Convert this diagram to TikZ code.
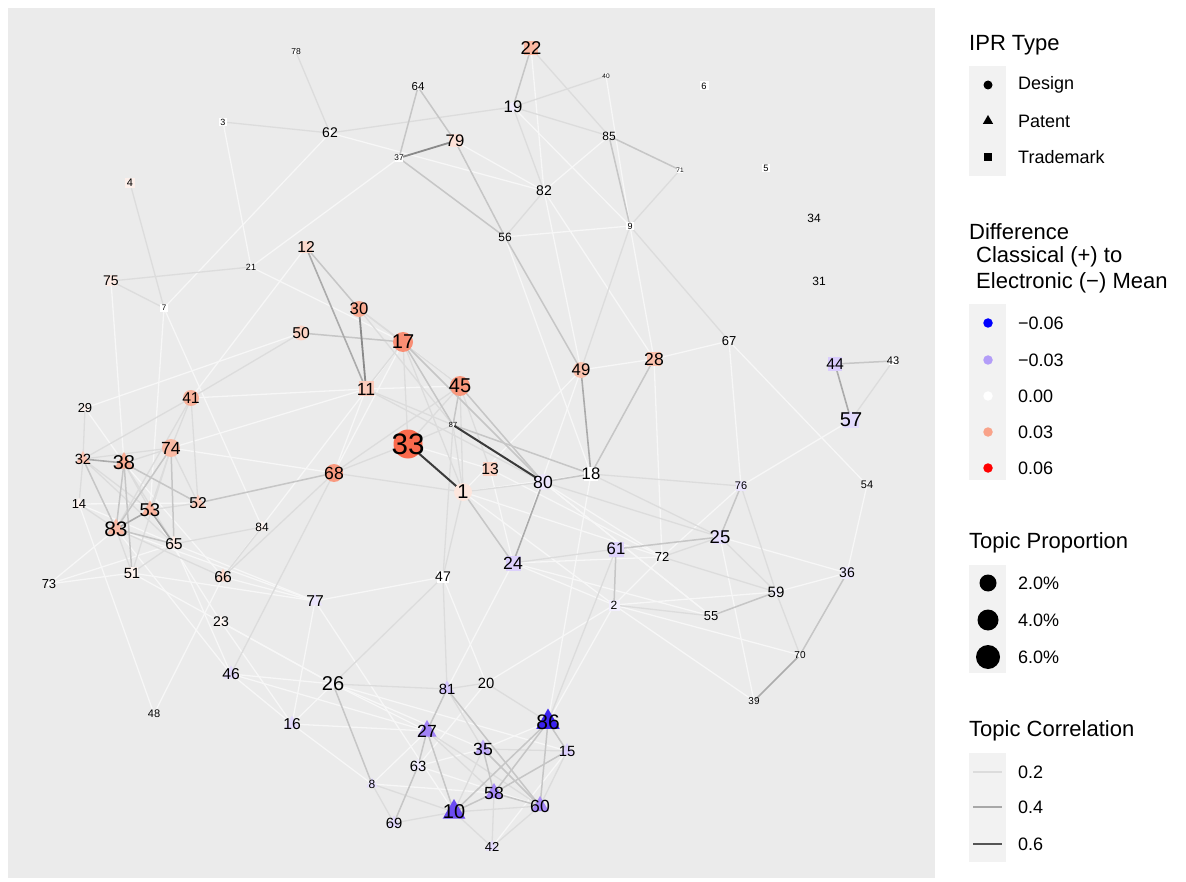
\documentclass[tikz,border=0pt]{standalone}
\usepackage{fontspec}
\setmainfont{Liberation Sans}
\usetikzlibrary{shapes.geometric}
\pgfdeclarelayer{panel}
\pgfdeclarelayer{edges}
\pgfdeclarelayer{labels}
\pgfsetlayers{panel,edges,main,labels}
\definecolor{panelbg}{HTML}{EBEBEB}
\definecolor{keybg}{HTML}{F2F2F2}
\definecolor{cw}{HTML}{F7F7F7}
\definecolor{cl}{HTML}{DCDCDC}
\definecolor{cm}{HTML}{C6C6C6}
\definecolor{cg}{HTML}{ABABAB}
\definecolor{cd}{HTML}{8A8A8A}
\definecolor{ck}{HTML}{3A3A3A}
\tikzset{
  circ/.style={circle, draw=none, inner sep=0pt},
  tri/.style={regular polygon, regular polygon sides=3, draw=none, inner sep=0pt},
  sqr/.style={rectangle, draw=none, inner sep=0pt},
  lbl/.style={inner sep=0pt, text=black},
  ew/.style={draw=cw, line width=1.3pt},
  el/.style={draw=cl, line width=1.3pt},
  em/.style={draw=cm, line width=1.5pt},
  eg/.style={draw=cg, line width=1.6pt},
  ed/.style={draw=cd, line width=1.8pt},
  ek/.style={draw=ck, line width=2pt},
  ttl/.style={anchor=west, inner sep=0pt, font=\fontsize{22pt}{25.5pt}\selectfont},
  keytxt/.style={anchor=west, inner sep=0pt, font=\fontsize{18pt}{18pt}\selectfont},
}
\newcommand{\topicnode}[7]{%
  \definecolor{fc#1}{HTML}{#5}%
  \node[#4, fill=fc#1, minimum size=#6pt] (n#1) at (#2,#3) {};
  \begin{pgfonlayer}{labels}
  \node[lbl, font=\fontsize{#7pt}{#7pt}\selectfont] (t#1) at (#2,#3) {#1};
  \end{pgfonlayer}
}
\begin{document}
\begin{tikzpicture}[x=1pt,y=-1pt]
\useasboundingbox (0,0) rectangle (1186,882);
\begin{pgfonlayer}{panel}
\fill[white] (0,0) rectangle (1186,882);
\fill[panelbg] (8,8) rectangle (935,878);
\end{pgfonlayer}
% nodes: name, x, y, shape, fill, marker size, font size
\topicnode{78}{296}{52}{sqr}{FFFFFF}{5}{8.5}
\topicnode{3}{223}{122}{sqr}{FFFFFF}{8}{9}
\topicnode{4}{130}{183}{sqr}{FEF0EB}{10}{11}
\topicnode{62}{330}{133}{circ}{FFFFFF}{6}{14}
\topicnode{64}{418}{87}{circ}{FFFFFF}{6}{11.5}
\topicnode{22}{531}{48}{sqr}{FAB8A2}{14}{18.5}
\topicnode{19}{513}{107}{circ}{F1EDFE}{10}{16.7}
\topicnode{40}{606}{76}{sqr}{FFFFFF}{5}{6.5}
\topicnode{6}{704}{86}{sqr}{FFFFFF}{9}{9.3}
\topicnode{37}{399}{158}{sqr}{FFFFFF}{8}{8.3}
\topicnode{79}{455}{141}{sqr}{FDE1D7}{13}{16.7}
\topicnode{85}{609}{136}{circ}{FFFFFF}{6}{12}
\topicnode{71}{680}{170}{sqr}{FFFFFF}{6}{6.5}
\topicnode{5}{766}{168}{sqr}{FFFFFF}{8}{9.3}
\topicnode{82}{544}{191}{circ}{FFFFFF}{6}{14}
\topicnode{9}{630}{226}{sqr}{FFFFFF}{8}{9}
\topicnode{56}{505}{237}{circ}{FFFFFF}{6}{12}
\topicnode{34}{814}{218}{circ}{F0F0F0}{4}{12}
\topicnode{31}{819}{281}{circ}{F0F0F0}{4}{12}
\topicnode{21}{251}{267}{circ}{FFFFFF}{5}{9}
\topicnode{12}{306}{247}{sqr}{FCD8CB}{12}{15.7}
\topicnode{75}{111}{281}{sqr}{FEEBE4}{11}{14}
\topicnode{7}{164}{308}{sqr}{FFFFFF}{8}{8}
\topicnode{30}{359}{309}{circ}{F9AB92}{16}{16.7}
\topicnode{50}{301}{333}{circ}{FCD3C4}{15}{15.7}
\topicnode{17}{403}{342}{circ}{F98E74}{20}{20}
\topicnode{67}{729}{341}{circ}{FFFFFF}{6}{13}
\topicnode{28}{654}{359}{sqr}{FBC1AD}{14}{17.6}
\topicnode{49}{581}{370}{circ}{FBC2AE}{16}{16.7}
\topicnode{44}{835}{364}{sqr}{D9CCFC}{14}{15.7}
\topicnode{43}{893}{361}{sqr}{FFFFFF}{8}{11}
\topicnode{57}{851}{420}{sqr}{E3DBFD}{16}{20}
\topicnode{41}{191}{398}{circ}{F9B39C}{16}{15.7}
\topicnode{11}{366}{389}{sqr}{FCCBBB}{15}{17.6}
\topicnode{45}{460}{386}{circ}{F9977C}{20}{20}
\topicnode{29}{85}{408}{tri}{FEF1EC}{11}{13}
\topicnode{87}{453}{425}{circ}{FFFFFF}{4}{7.4}
\topicnode{33}{408}{444}{circ}{FA6A4C}{29}{29.6}
\topicnode{32}{83}{459}{tri}{FBC4B2}{16}{14.8}
\topicnode{38}{124}{463}{tri}{F9AB93}{22}{20}
\topicnode{74}{171}{448}{circ}{FAB9A3}{18}{17.6}
\topicnode{13}{490}{469}{sqr}{FCD1C2}{14}{15.7}
\topicnode{68}{334}{473}{circ}{F99A80}{18}{17.6}
\topicnode{80}{543}{482}{circ}{EDE7FD}{16}{17.6}
\topicnode{18}{591}{474}{sqr}{FFFFFF}{14}{16.7}
\topicnode{1}{463}{492}{circ}{FDE6DD}{18}{20}
\topicnode{54}{867}{485}{circ}{FFFFFF}{5}{11}
\topicnode{76}{741}{486}{sqr}{EBE5FD}{10}{11}
\topicnode{14}{79}{504}{tri}{FEF4F0}{13}{13}
\topicnode{52}{198}{503}{tri}{FBCBBB}{17}{15.7}
\topicnode{53}{150}{510}{tri}{FAB49E}{19}{18.5}
\topicnode{83}{116}{529}{tri}{FABAA5}{21}{21}
\topicnode{84}{262}{527}{tri}{FEF4F0}{13}{12}
\topicnode{65}{174}{544}{tri}{FDE9E2}{17}{15.7}
\topicnode{25}{720}{537}{sqr}{E6DEFD}{14}{18.5}
\topicnode{61}{616}{549}{sqr}{DFD4FC}{15}{16.7}
\topicnode{24}{513}{563}{sqr}{DCD0FC}{15}{17.6}
\topicnode{72}{662}{557}{circ}{FFFFFF}{6}{13}
\topicnode{51}{132}{573}{sqr}{FEF3EE}{12}{14.8}
\topicnode{66}{223}{577}{tri}{FCD8CB}{17}{15.7}
\topicnode{73}{49}{584}{circ}{FFFFFF}{5}{13}
\topicnode{36}{847}{573}{sqr}{EDE8FD}{12}{14}
\topicnode{59}{776}{592}{circ}{F3F0FE}{8}{15}
\topicnode{77}{315}{601}{tri}{ECE6FD}{17}{15.7}
\topicnode{47}{443}{577}{sqr}{FFFFFF}{12}{14}
\topicnode{2}{614}{605}{sqr}{F2EEFE}{11}{12}
\topicnode{55}{711}{616}{circ}{FFFFFF}{6}{13}
\topicnode{23}{221}{622}{tri}{FEF6F2}{13}{14}
\topicnode{70}{800}{655}{circ}{FFFFFF}{5}{10}
\topicnode{46}{231}{674}{tri}{E3DAFD}{17}{15.7}
\topicnode{26}{333}{684}{circ}{F4F2F8}{8}{20}
\topicnode{81}{447}{689}{tri}{D3C5FB}{17}{14.8}
\topicnode{20}{486}{683}{circ}{FFFFFF}{6}{14.8}
\topicnode{39}{754}{701}{circ}{FFFFFF}{5}{10}
\topicnode{48}{154}{714}{circ}{FFFFFF}{5}{11}
\topicnode{16}{292}{724}{tri}{E3DAFD}{17}{15.7}
\topicnode{27}{427}{731}{tri}{A283F6}{22}{17.6}
\topicnode{86}{548}{722}{tri}{3B22F0}{27}{21}
\topicnode{15}{567}{751}{tri}{DCD0FC}{16}{14.8}
\topicnode{35}{483}{749}{tri}{C2AEFA}{19}{17.6}
\topicnode{63}{418}{766}{tri}{F0EBFE}{15}{14.8}
\topicnode{8}{372}{784}{tri}{E6DFFD}{13}{12}
\topicnode{58}{494}{793}{tri}{A78AF7}{20}{17.6}
\topicnode{60}{540}{806}{tri}{A78AF7}{20}{17.6}
\topicnode{10}{454}{812}{tri}{6B4BF2}{26}{20}
\topicnode{69}{394}{823}{tri}{E0D7FC}{15}{14.8}
\topicnode{42}{492}{847}{tri}{E3DAFD}{14}{13}
% edges
\begin{pgfonlayer}{edges}
\foreach \a/\b in {3/21,62/7,21/37,21/17,12/41,62/82,22/82,19/9,40/9,85/82,79/82,56/9,56/18,82/28,82/49,9/28,
  7/53,7/84,75/38,29/50,29/38,41/11,74/68,74/11,14/52,14/65,14/48,51/73,83/73,65/73,51/77,65/77,83/77,
  46/65,48/66,16/77,16/26,46/26,46/16,23/26,23/16,77/47,17/45,17/68,17/66,11/45,11/68,33/13,1/18,
  80/72,80/55,49/28,49/24,47/20,13/24,13/72,28/67,67/76,67/54,57/76,54/36,25/36,36/59,28/72,76/72,
  2/70,2/39,25/39,2/59,24/2,24/72,72/2,2/86,2/20,26/27,26/35,26/15,81/24,86/35,86/18,27/8,35/63,8/58,
  15/42,16/27,46/27,16/8,77/10,53/23,83/46,38/66,51/26,66/77,80/55,1/72,1/2,24/55,63/60,20/63,49/1}
  \draw[ew] (n\a.center) -- (n\b.center);
\foreach \a/\b in {78/62,3/62,4/7,75/21,75/7,62/19,22/85,19/85,19/82,40/19,56/82,9/49,9/71,9/67,
  29/32,41/32,41/74,41/52,41/83,50/41,32/74,38/74,32/14,32/53,32/65,38/53,38/65,74/53,74/52,74/51,
  53/52,83/66,83/51,83/14,65/84,65/51,66/84,66/68,46/68,30/17,30/87,30/45,17/33,17/11,17/1,11/87,11/80,
  45/33,45/68,45/13,45/1,87/1,87/33,87/47,33/68,68/1,1/80,1/47,24/61,43/57,25/59,25/72,72/59,18/25,18/76,
  80/25,76/59,2/55,59/70,26/81,81/20,81/35,20/86,27/58,27/60,35/10,35/15,8/69,8/10,69/10,10/42,10/60,
  58/42,15/60,60/42,47/81,47/26,86/61}
  \draw[el] (n\a.center) -- (n\b.center);
\foreach \a/\b in {12/30,64/37,64/79,22/19,85/9,85/71,79/56,37/56,56/49,50/17,32/83,38/83,38/51,38/52,
  74/83,74/65,83/65,52/68,17/87,17/80,45/87,45/80,87/18,80/18,1/24,18/28,61/2,61/25,44/43,76/25,36/70,
  59/55,26/8,81/27,81/60,86/15,86/60,86/58,86/10,27/63,27/10,35/58,35/60,63/69,10/58,58/60,58/15}
  \draw[em] (n\a.center) -- (n\b.center);
\foreach \a/\b in {12/11,32/38,53/83,53/65,80/24,49/18,44/57,39/70}
  \draw[eg] (n\a.center) -- (n\b.center);
\foreach \a/\b in {37/79,30/11}
  \draw[ed] (n\a.center) -- (n\b.center);
\foreach \a/\b in {87/80,33/1}
  \draw[ek] (n\a.center) -- (n\b.center);
\end{pgfonlayer}
% legend: IPR type
\node[ttl] (ltitle1) at (969,45) {IPR Type};
\fill[keybg] (969,66) rectangle (1006,176);
\node[circ, fill=black, minimum size=9pt] (kd) at (988,85) {};
\node[tri, fill=black, minimum size=12pt] (kp) at (988,121) {};
\node[sqr, fill=black, minimum size=8.5pt] (kt) at (988,157) {};
\node[keytxt] (kdl) at (1018,85) {Design};
\node[keytxt] (kpl) at (1018,121) {Patent};
\node[keytxt] (ktl) at (1018,157) {Trademark};
% legend: difference
\node[ttl] (ltitle2a) at (969,232) {Difference};
\node[ttl] (ltitle2b) at (976,257) {Classical (+) to};
\node[ttl] (ltitle2c) at (976,283) {Electronic (−) Mean};
\fill[keybg] (969,304) rectangle (1006,480);
\definecolor{k1}{HTML}{0000FF}
\definecolor{k2}{HTML}{B39DF8}
\definecolor{k3}{HTML}{FFFFFF}
\definecolor{k4}{HTML}{F9A38A}
\definecolor{k5}{HTML}{FF0000}
\node[circ, fill=k1, minimum size=9.5pt] (kc1) at (988,323) {};
\node[circ, fill=k2, minimum size=9.5pt] (kc2) at (988,360) {};
\node[circ, fill=k3, minimum size=9.5pt] (kc3) at (988,396) {};
\node[circ, fill=k4, minimum size=9.5pt] (kc4) at (988,432) {};
\node[circ, fill=k5, minimum size=9.5pt] (kc5) at (988,468) {};
\node[keytxt] (kcl1) at (1018,323) {−0.06};
\node[keytxt] (kcl2) at (1018,360) {−0.03};
\node[keytxt] (kcl3) at (1018,396) {0.00};
\node[keytxt] (kcl4) at (1018,432) {0.03};
\node[keytxt] (kcl5) at (1018,468) {0.06};
% legend: topic proportion
\node[ttl] (ltitle3) at (969,543) {Topic Proportion};
\fill[keybg] (969,565) rectangle (1006,673);
\node[circ, fill=black, minimum size=17pt] (ks1) at (988,583) {};
\node[circ, fill=black, minimum size=21pt] (ks2) at (988,620) {};
\node[circ, fill=black, minimum size=24pt] (ks3) at (988,657) {};
\node[keytxt] (ksl1) at (1018,583) {2.0\%};
\node[keytxt] (ksl2) at (1018,620) {4.0\%};
\node[keytxt] (ksl3) at (1018,657) {6.0\%};
% legend: topic correlation
\node[ttl] (ltitle4) at (969,731) {Topic Correlation};
\fill[keybg] (969,753) rectangle (1006,862);
\coordinate (kl1a) at (973,772); \coordinate (kl1b) at (1002,772);
\coordinate (kl2a) at (973,807); \coordinate (kl2b) at (1002,807);
\coordinate (kl3a) at (973,844); \coordinate (kl3b) at (1002,844);
\draw[draw={rgb,255:red,220;green,220;blue,220}, line width=2pt] (kl1a) -- (kl1b);
\draw[draw={rgb,255:red,168;green,168;blue,168}, line width=2pt] (kl2a) -- (kl2b);
\draw[draw={rgb,255:red,85;green,85;blue,85}, line width=2pt] (kl3a) -- (kl3b);
\node[keytxt] (kll1) at (1018,772) {0.2};
\node[keytxt] (kll2) at (1018,807) {0.4};
\node[keytxt] (kll3) at (1018,844) {0.6};
\end{tikzpicture}
\end{document}
